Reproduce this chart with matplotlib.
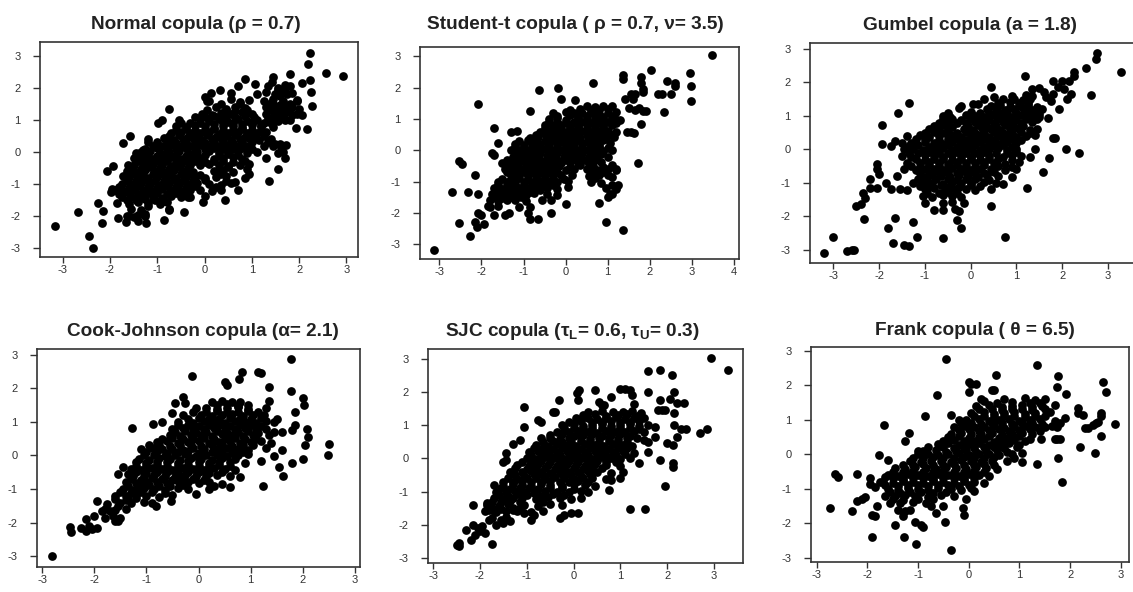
import numpy as np
import matplotlib
matplotlib.use('Agg')
import matplotlib.pyplot as plt

# ---- data (x, y pairs) ----
normal_pts = [
    (2.23, 3.11), (2.19, 2.75), (2.56, 2.47), (2.93, 2.37), (2.23, 2.24), (2.26, 1.88), (2.07, 2.16),
    (2.28, 1.43), (2.07, 1.15), (2.17, 0.71), (1.94, 0.75), (1.80, 2.43), (1.45, 2.35), (1.42, 2.19),
    (0.85, 2.29), (1.07, 2.12), (0.70, 2.05), (0.32, 1.93), (0.13, 1.83), (0.01, 1.72), (0.05, 1.58),
    (-0.75, 1.34), (-0.89, 0.99), (-0.98, 0.89), (-1.58, 0.49), (-1.72, 0.29), (-1.20, 0.30), (-1.30, 0.05),
    (-1.45, -0.02), (-1.94, -0.45), (-2.06, -0.59), (-1.62, -0.40), (-1.72, -0.75), (-1.95, -1.15),
    (-1.97, -1.27), (-1.80, -1.32), (-2.25, -1.60), (-2.14, -1.85), (-2.16, -2.22), (-2.68, -1.88),
    (-3.16, -2.32), (-2.44, -2.64), (-2.35, -3.00), (-1.84, -2.06), (-1.66, -2.19), (-1.65, -2.00),
    (-1.50, -2.05), (-1.40, -2.15), (-1.23, -2.22), (-1.25, -1.95), (-1.20, -1.70), (-0.86, -2.14),
    (-0.75, -1.83), (-0.85, -1.55), (-0.44, -1.88), (-0.35, -1.40), (-0.03, -1.58), (0.43, -1.51),
    (0.70, -1.20), (0.65, -0.95), (0.94, -0.70), (0.90, -0.55), (1.37, -0.92), (1.56, -0.52), (1.71, -0.19),
    (1.65, 0.00), (1.73, 0.23), (1.50, 0.25), (1.62, 0.15), (1.25, 0.50), (1.20, 0.80), (1.45, 1.50),
    (1.60, 1.75), (1.70, 2.00), (1.80, 2.05), (1.55, 1.95), (1.75, 1.80), (1.95, 1.60), (2.00, 1.35),
    (1.85, 1.15), (1.70, 1.00), (1.55, 1.20), (1.40, 0.90), (1.30, 1.20),
    (1.35, 2.05), (1.55, 2.0), (1.7, 2.08),
    (0.55, 1.85), (1.1, 1.8), (1.3, 1.88), (1.5, 1.82), (1.65, 1.9), (1.85, 1.85),
    (0.1, 1.6), (0.55, 1.65), (0.75, 1.55), (0.95, 1.62), (1.25, 1.58), (1.45, 1.65), (1.65, 1.6), (1.95, 1.62),
    (0.25, 1.4), (0.45, 1.35), (0.65, 1.42), (0.85, 1.38), (1.3, 1.4), (1.5, 1.35), (1.7, 1.42), (1.85, 1.4),
    (-0.05, 1.2), (0.15, 1.15), (0.35, 1.22), (0.55, 1.18), (0.8, 1.25), (1.0, 1.2), (1.5, 1.18), (1.7, 1.22), (1.95, 1.2),
    (-0.55, 1.0), (-0.1, 1.05), (0.1, 0.98), (0.3, 1.02), (0.5, 0.95), (0.7, 1.03), (0.9, 0.98), (1.1, 1.0),
    (1.35, 1.05), (1.55, 0.97), (1.8, 1.0),
    (-0.6, 0.8), (-0.4, 0.78), (-0.2, 0.83), (0.0, 0.8), (0.2, 0.76), (0.4, 0.82), (0.6, 0.8), (0.8, 0.77),
    (1.0, 0.83), (1.2, 0.8), (1.45, 0.78),
    (-0.7, 0.6), (-0.5, 0.62), (-0.3, 0.58), (-0.1, 0.6), (0.1, 0.63), (0.3, 0.57), (0.5, 0.6), (0.7, 0.62),
    (0.9, 0.58), (1.1, 0.6), (1.3, 0.62),
    (-1.2, 0.4), (-0.85, 0.42), (-0.65, 0.38), (-0.45, 0.4), (-0.25, 0.43), (-0.05, 0.37), (0.15, 0.4),
    (0.35, 0.42), (0.55, 0.38), (0.75, 0.4), (0.95, 0.43), (1.15, 0.38), (1.4, 0.4),
    (-1.1, 0.2), (-0.9, 0.18), (-0.7, 0.22), (-0.5, 0.2), (-0.3, 0.17), (-0.1, 0.22), (0.1, 0.2), (0.3, 0.18),
    (0.5, 0.22), (0.7, 0.2), (0.9, 0.17), (1.25, 0.2), (1.45, 0.18), (1.6, 0.25),
    (-1.35, 0.0), (-1.15, 0.02), (-0.95, -0.03), (-0.75, 0.0), (-0.55, 0.03), (-0.35, -0.02), (-0.15, 0.0),
    (0.1, 0.02), (0.3, -0.03), (0.5, 0.0), (0.7, 0.03), (0.9, -0.02), (1.1, 0.0), (1.55, -0.03),
    (-1.5, -0.2), (-1.3, -0.18), (-1.1, -0.22), (-0.9, -0.2), (-0.7, -0.17), (-0.5, -0.22), (-0.3, -0.2),
    (-0.1, -0.18), (0.2, -0.22), (0.4, -0.2), (0.6, -0.17), (0.8, -0.22), (1.3, -0.2),
    (-1.5, -0.4), (-1.3, -0.42), (-1.1, -0.38), (-0.9, -0.4), (-0.7, -0.43), (-0.5, -0.37), (-0.3, -0.4),
    (-0.1, -0.42), (0.1, -0.38), (0.3, -0.4), (0.5, -0.43), (0.75, -0.4), (0.95, -0.38),
    (-1.65, -0.6), (-1.45, -0.62), (-1.25, -0.58), (-1.05, -0.6), (-0.85, -0.63), (-0.65, -0.57),
    (-0.45, -0.6), (-0.25, -0.62), (0.2, -0.6), (0.4, -0.58), (0.6, -0.62),
    (-1.6, -0.8), (-1.4, -0.78), (-1.2, -0.83), (-1.0, -0.8), (-0.8, -0.77), (-0.6, -0.82), (-0.4, -0.8),
    (-0.2, -0.78), (0.0, -0.83), (0.25, -0.8), (0.45, -0.77), (0.85, -0.82),
    (-1.75, -1.0), (-1.55, -1.02), (-1.35, -0.98), (-1.15, -1.0), (-0.95, -1.03), (-0.75, -0.97),
    (-0.55, -1.0), (-0.35, -1.02), (-0.15, -0.98), (0.1, -1.0), (0.35, -1.03), (0.55, -0.98),
    (-1.9, -1.2), (-1.7, -1.22), (-1.5, -1.18), (-1.3, -1.2), (-1.1, -1.23), (-0.9, -1.17), (-0.7, -1.2),
    (-0.5, -1.22), (-0.3, -1.18), (-0.1, -1.2), (0.15, -1.23), (0.35, -1.18),
    (-1.75, -1.4), (-1.55, -1.42), (-1.35, -1.38), (-1.1, -1.4), (-0.9, -1.43), (-0.7, -1.37), (-0.5, -1.4),
    (-0.3, -1.42), (0.0, -1.38),
    (-1.85, -1.6), (-1.6, -1.62), (-1.4, -1.58), (-1.2, -1.6), (-0.95, -1.62), (-0.8, -1.58),
    (-1.55, -1.8), (-1.35, -1.82), (-0.75, -1.78),
    (-1.6, -2.0), (-1.4, -1.98), (-1.25, -2.02),
    (0.35, 1.5), (0.75, 1.5), (1.4, 1.52), (1.6, 1.48), (1.8, 1.5),
    (0.05, 1.3), (0.45, 1.3), (0.65, 1.28), (0.9, 1.32), (1.4, 1.3), (1.6, 1.28), (1.8, 1.3),
    (-0.2, 1.1), (0.0, 1.1), (0.2, 1.12), (0.45, 1.08), (0.65, 1.1), (0.85, 1.12), (1.05, 1.08), (1.45, 1.1), (1.65, 1.1),
    (-0.5, 0.9), (-0.3, 0.9), (-0.1, 0.92), (0.2, 0.88), (0.4, 0.9), (0.6, 0.92), (0.8, 0.88), (1.0, 0.9), (1.25, 0.9),
    (-0.6, 0.7), (-0.4, 0.72), (-0.2, 0.68), (0.0, 0.7), (0.2, 0.72), (0.4, 0.68), (0.6, 0.7), (0.8, 0.72),
    (1.0, 0.68), (1.2, 0.7),
    (-0.75, 0.5), (-0.55, 0.52), (-0.35, 0.48), (-0.15, 0.5), (0.05, 0.52), (0.25, 0.48), (0.45, 0.5),
    (0.65, 0.52), (0.85, 0.48), (1.05, 0.5),
    (-1.0, 0.3), (-0.8, 0.32), (-0.6, 0.28), (-0.4, 0.3), (-0.2, 0.32), (0.0, 0.28), (0.2, 0.3), (0.4, 0.32),
    (0.6, 0.28), (0.8, 0.3), (1.0, 0.32), (1.35, 0.3),
    (-1.25, 0.1), (-1.0, 0.12), (-0.8, 0.08), (-0.6, 0.1), (-0.4, 0.12), (-0.2, 0.08), (0.0, 0.1), (0.2, 0.12),
    (0.4, 0.08), (0.6, 0.1), (0.8, 0.12), (1.0, 0.08),
    (-1.4, -0.1), (-1.2, -0.1), (-1.0, -0.12), (-0.8, -0.08), (-0.6, -0.1), (-0.4, -0.12), (-0.2, -0.08),
    (0.0, -0.1), (0.3, -0.12), (0.5, -0.08), (0.7, -0.1),
    (-1.4, -0.3), (-1.2, -0.32), (-1.0, -0.28), (-0.8, -0.3), (-0.6, -0.32), (-0.4, -0.28), (-0.2, -0.3),
    (0.0, -0.32), (0.2, -0.28), (0.4, -0.3), (0.6, -0.32), (0.85, -0.28),
    (-1.55, -0.5), (-1.35, -0.52), (-1.15, -0.48), (-0.95, -0.5), (-0.75, -0.52), (-0.55, -0.48),
    (-0.35, -0.5), (0.3, -0.52), (0.5, -0.48),
    (-1.5, -0.7), (-1.3, -0.72), (-1.1, -0.68), (-0.9, -0.7), (-0.7, -0.72), (-0.5, -0.68), (-0.3, -0.7),
    (-0.1, -0.72), (0.35, -0.68),
    (-1.65, -0.9), (-1.45, -0.92), (-1.25, -0.88), (-1.05, -0.9), (-0.85, -0.92), (-0.65, -0.88),
    (-0.45, -0.9), (-0.25, -0.92), (0.0, -0.88), (0.45, -0.9),
    (-1.8, -1.1), (-1.6, -1.12), (-1.4, -1.08), (-1.2, -1.1), (-1.0, -1.12), (-0.8, -1.08), (-0.6, -1.1),
    (-0.4, -1.12), (-0.2, -1.08), (0.25, -1.1),
    (-1.6, -1.3), (-1.4, -1.32), (-1.2, -1.28), (-1.0, -1.3), (-0.8, -1.32), (-0.6, -1.28), (-0.4, -1.3),
    (-1.65, -1.5), (-1.45, -1.52), (-1.25, -1.48), (-1.05, -1.5),
]

student_pts = [
    (3.49, 3.06), (2.02, 2.55), (2.95, 2.46), (2.98, 2.04), (2.98, 1.59), (2.41, 2.23), (2.60, 2.05),
    (2.60, 2.15), (2.50, 1.80), (2.30, 1.80), (2.20, 1.80), (2.34, 1.22), (1.78, 2.34), (1.78, 2.14),
    (1.37, 2.42), (1.37, 2.28), (0.66, 2.14), (-0.63, 1.94), (-0.17, 2.00), (-0.12, 1.65), (0.22, 1.60),
    (-2.07, 1.49), (-0.85, 1.27), (-1.70, 0.72), (-1.60, 0.25), (-1.75, -0.10), (-1.70, -0.15),
    (-2.53, -0.35), (-2.47, -0.45), (-2.15, -0.80), (-2.71, -1.32), (-2.31, -1.32), (-2.09, -1.38),
    (-2.07, -1.99), (-2.00, -2.05), (-2.53, -2.31), (-2.15, -2.30), (-2.10, -2.45), (-1.95, -2.35),
    (-2.27, -2.74), (-3.12, -3.18), (-1.70, -2.05), (-1.45, -2.05), (-1.35, -2.00), (-0.90, -2.00),
    (-0.85, -2.20), (-0.65, -2.20), (-0.35, -2.00), (0.00, -1.72), (0.79, -1.68), (0.96, -2.28),
    (1.37, -2.53), (1.71, -0.39), (1.00, -1.50), (1.10, -1.40), (1.25, -1.10), (1.20, -0.60), (1.10, -0.85),
    (1.45, 0.60), (1.55, 0.60), (1.62, 0.55), (1.85, 1.25), (1.80, 0.85), (1.85, 1.85), (1.85, 1.95),
    (1.55, 1.80), (1.65, 1.80), (1.60, 1.65), (1.40, 1.65), (1.50, 1.35), (1.65, 1.30), (1.75, 1.35),
    (1.90, 1.25), (-1.85, -1.78),
    (0.5, 1.4), (0.7, 1.38), (0.9, 1.42), (1.1, 1.4),
    (-0.3, 1.2), (0.0, 1.22), (0.2, 1.18), (0.4, 1.2), (0.6, 1.23), (0.8, 1.17), (1.0, 1.2), (1.2, 1.22),
    (-0.4, 1.0), (-0.2, 1.03), (0.0, 0.98), (0.3, 1.0), (0.5, 1.02), (0.7, 0.97), (0.9, 1.0), (1.1, 1.03), (1.3, 0.98),
    (-0.5, 0.8), (-0.3, 0.78), (-0.1, 0.82), (0.1, 0.8), (0.3, 0.77), (0.5, 0.83), (0.7, 0.8), (0.9, 0.78), (1.1, 0.82),
    (-1.3, 0.6), (-1.15, 0.62), (-0.6, 0.58), (-0.4, 0.6), (-0.2, 0.63), (0.0, 0.57), (0.2, 0.6), (0.4, 0.62),
    (0.6, 0.58), (0.8, 0.6), (1.0, 0.63), (1.2, 0.57),
    (-0.85, 0.4), (-0.65, 0.42), (-0.45, 0.38), (-0.25, 0.4), (-0.05, 0.43), (0.15, 0.37), (0.35, 0.4),
    (0.55, 0.42), (0.75, 0.38), (0.95, 0.4), (1.15, 0.42),
    (-1.2, 0.2), (-1.0, 0.18), (-0.8, 0.22), (-0.6, 0.2), (-0.4, 0.17), (-0.2, 0.22), (0.0, 0.2), (0.2, 0.18),
    (0.4, 0.22), (0.6, 0.2), (0.8, 0.17), (1.05, 0.22),
    (-1.3, 0.0), (-1.1, 0.02), (-0.9, -0.03), (-0.7, 0.0), (-0.5, 0.03), (-0.3, -0.02), (-0.1, 0.0),
    (0.1, 0.02), (0.3, -0.03), (0.5, 0.0), (0.7, 0.03), (0.9, -0.02), (1.1, 0.0),
    (-1.25, -0.2), (-1.05, -0.18), (-0.85, -0.22), (-0.65, -0.2), (-0.45, -0.17), (-0.25, -0.22),
    (-0.05, -0.2), (0.15, -0.18), (0.35, -0.22), (0.55, -0.2), (0.75, -0.17), (1.0, -0.22),
    (-1.5, -0.4), (-1.3, -0.42), (-1.1, -0.38), (-0.9, -0.4), (-0.7, -0.43), (-0.5, -0.37), (-0.3, -0.4),
    (-0.1, -0.42), (0.1, -0.38), (0.3, -0.4), (0.55, -0.43), (0.85, -0.38),
    (-1.45, -0.6), (-1.25, -0.62), (-1.05, -0.58), (-0.85, -0.6), (-0.65, -0.63), (-0.45, -0.57),
    (-0.25, -0.6), (0.0, -0.62), (0.2, -0.58), (0.5, -0.6), (0.75, -0.63), (1.0, -0.58), (1.2, -0.62),
    (-1.3, -0.8), (-1.1, -0.78), (-0.9, -0.83), (-0.7, -0.8), (-0.5, -0.77), (-0.3, -0.82), (-0.1, -0.8),
    (0.15, -0.78), (0.55, -0.83), (0.8, -0.8), (1.0, -0.78),
    (-1.6, -1.0), (-1.4, -1.02), (-1.2, -0.98), (-1.0, -1.0), (-0.8, -1.03), (-0.6, -0.97), (-0.4, -1.0),
    (-0.2, -1.02), (0.05, -0.98), (0.6, -1.0), (0.85, -1.03),
    (-1.7, -1.2), (-1.5, -1.22), (-1.3, -1.18), (-1.1, -1.2), (-0.9, -1.23), (-0.7, -1.17), (-0.45, -1.2),
    (-0.2, -1.22), (0.05, -1.18), (0.95, -1.2), (1.2, -1.22),
    (-1.75, -1.4), (-1.55, -1.42), (-1.35, -1.38), (-1.15, -1.4), (-0.95, -1.43), (-0.75, -1.37),
    (-0.45, -1.4), (-0.2, -1.42), (1.05, -1.38),
    (-1.8, -1.6), (-1.6, -1.62), (-1.4, -1.58), (-1.2, -1.6), (-0.95, -1.62), (-0.55, -1.58), (-0.35, -1.6),
    (-1.8, -1.8), (-1.6, -1.78), (-1.1, -1.82), (-0.85, -1.8),
    (0.1, 1.3), (0.35, 1.32), (0.6, 1.28), (0.8, 1.3), (1.0, 1.32),
    (-0.2, 1.1), (0.1, 1.12), (0.3, 1.08), (0.5, 1.1), (0.7, 1.12), (0.9, 1.08), (1.15, 1.1),
    (-0.4, 0.9), (-0.2, 0.92), (0.0, 0.88), (0.2, 0.9), (0.4, 0.92), (0.6, 0.88), (0.8, 0.9), (1.0, 0.92), (1.2, 0.88),
    (-0.5, 0.7), (-0.3, 0.72), (-0.1, 0.68), (0.1, 0.7), (0.3, 0.72), (0.5, 0.68), (0.7, 0.7), (0.9, 0.72),
    (-0.7, 0.5), (-0.5, 0.52), (-0.3, 0.48), (-0.1, 0.5), (0.1, 0.52), (0.3, 0.48), (0.5, 0.5), (0.7, 0.52),
    (0.9, 0.48), (1.1, 0.5),
    (-1.1, 0.3), (-0.9, 0.32), (-0.7, 0.28), (-0.5, 0.3), (-0.3, 0.32), (-0.1, 0.28), (0.1, 0.3), (0.3, 0.32),
    (0.5, 0.28), (0.7, 0.3), (0.9, 0.32),
    (-1.2, 0.1), (-1.0, 0.12), (-0.8, 0.08), (-0.6, 0.1), (-0.4, 0.12), (-0.2, 0.08), (0.0, 0.1), (0.2, 0.12),
    (0.4, 0.08), (0.6, 0.1), (0.8, 0.12), (1.0, 0.08),
    (-1.2, -0.1), (-1.0, -0.12), (-0.8, -0.08), (-0.6, -0.1), (-0.4, -0.12), (-0.2, -0.08), (0.0, -0.1),
    (0.2, -0.12), (0.4, -0.08), (0.6, -0.1), (0.85, -0.12),
    (-1.4, -0.3), (-1.2, -0.32), (-1.0, -0.28), (-0.8, -0.3), (-0.6, -0.32), (-0.4, -0.28), (-0.2, -0.3),
    (0.0, -0.32), (0.2, -0.28), (0.45, -0.3), (0.7, -0.32),
    (-1.35, -0.5), (-1.15, -0.52), (-0.95, -0.48), (-0.75, -0.5), (-0.55, -0.52), (-0.35, -0.48),
    (-0.15, -0.5), (0.1, -0.52), (0.35, -0.48), (0.65, -0.5), (0.9, -0.52), (1.1, -0.48),
    (-1.4, -0.7), (-1.2, -0.72), (-1.0, -0.68), (-0.8, -0.7), (-0.6, -0.72), (-0.4, -0.68), (-0.2, -0.7),
    (0.65, -0.72), (0.9, -0.68),
    (-1.5, -0.9), (-1.3, -0.92), (-1.1, -0.88), (-0.9, -0.9), (-0.7, -0.92), (-0.5, -0.88), (-0.3, -0.9),
    (-0.05, -0.92), (0.7, -0.88),
    (-1.6, -1.1), (-1.4, -1.12), (-1.2, -1.08), (-1.0, -1.1), (-0.8, -1.12), (-0.55, -1.08), (-0.3, -1.1), (1.1, -1.12),
    (-1.65, -1.3), (-1.45, -1.32), (-1.25, -1.28), (-1.05, -1.3), (-0.85, -1.32), (-0.6, -1.28),
    (-1.7, -1.5), (-1.5, -1.52), (-1.3, -1.48), (-1.05, -1.5),
]

gumbel_pts = [
    (2.75, 2.89), (2.73, 2.71), (3.29, 2.31), (2.51, 2.44), (2.64, 1.62), (2.25, 2.30), (2.25, 2.20),
    (1.19, 2.19), (0.44, 1.87), (-1.34, 1.40), (-1.59, 1.10), (-1.93, 0.72), (-1.94, 0.15), (-1.75, 0.10),
    (-1.65, 0.25), (-2.05, -0.45), (-2.05, -0.60), (-2.00, -0.75), (-2.20, -0.88), (-2.20, -1.15),
    (-2.05, -1.15), (-2.35, -1.30), (-2.30, -1.45), (-2.40, -1.65), (-2.50, -1.70), (-2.34, -2.09),
    (-1.80, -2.34), (-1.65, -2.04), (-1.70, -2.79), (-1.45, -2.85), (-1.35, -2.90), (-1.27, -2.17),
    (-1.18, -2.61), (-0.61, -2.65), (0.75, -2.61), (-3.20, -3.09), (-3.00, -2.61), (-2.70, -3.05),
    (-2.60, -3.00), (-2.55, -3.00), (-0.20, -2.34), (-0.30, -2.10), (-0.25, -1.85), (0.44, -1.69),
    (1.24, -1.15), (1.57, -0.68), (1.72, -0.25), (2.09, 0.02), (2.36, -0.12), (1.80, 0.35), (1.85, 0.35),
    (1.93, 1.22), (2.10, 1.50), (2.20, 1.65), (2.05, 1.80), (2.15, 2.05), (2.00, 2.05), (1.80, 2.05),
    (1.60, 1.70), (1.65, 1.55), (1.75, 1.45), (1.80, 1.65), (1.90, 1.85), (1.70, 0.95), (1.50, 1.05),
    (1.45, 0.60), (0.50, 1.55), (0.30, 1.50), (0.15, 1.35), (0.05, 1.35), (-0.20, 1.30), (-0.25, 1.25),
    (1.35, 1.8), (1.5, 1.82),
    (0.9, 1.6), (1.2, 1.62), (1.35, 1.58),
    (0.6, 1.4), (0.85, 1.42), (1.05, 1.38), (1.25, 1.4),
    (0.35, 1.2), (0.55, 1.22), (0.75, 1.18), (0.95, 1.2), (1.15, 1.23), (1.35, 1.17), (1.55, 1.2),
    (-0.6, 1.0), (-0.45, 0.98), (-0.1, 1.02), (0.1, 1.0), (0.3, 0.97), (0.5, 1.03), (0.7, 1.0), (0.9, 0.98),
    (1.1, 1.02), (1.3, 1.0), (1.5, 0.97),
    (-0.7, 0.8), (-0.5, 0.82), (-0.3, 0.78), (-0.1, 0.8), (0.1, 0.83), (0.3, 0.77), (0.5, 0.8), (0.7, 0.82),
    (0.9, 0.78), (1.1, 0.8), (1.35, 0.83),
    (-0.9, 0.6), (-0.7, 0.58), (-0.5, 0.62), (-0.15, 0.6), (0.05, 0.57), (0.25, 0.63), (0.45, 0.6),
    (0.65, 0.58), (0.85, 0.62), (1.05, 0.6), (1.3, 0.57),
    (-1.4, 0.4), (-1.1, 0.42), (-0.9, 0.38), (-0.7, 0.4), (-0.4, 0.43), (-0.2, 0.37), (0.0, 0.4), (0.2, 0.42),
    (0.4, 0.38), (0.6, 0.4), (0.8, 0.43), (1.0, 0.37), (1.2, 0.4), (1.4, 0.42),
    (-1.5, 0.2), (-1.3, 0.18), (-1.0, 0.22), (-0.8, 0.2), (-0.6, 0.17), (-0.4, 0.22), (-0.2, 0.2), (0.0, 0.18),
    (0.2, 0.22), (0.4, 0.2), (0.6, 0.17), (0.8, 0.22), (1.0, 0.2),
    (-1.45, 0.0), (-1.25, 0.02), (-1.05, -0.03), (-0.8, 0.0), (-0.6, 0.03), (-0.4, -0.02), (-0.2, 0.0),
    (0.0, 0.02), (0.2, -0.03), (0.4, 0.0), (0.6, 0.03), (0.8, -0.02), (1.0, 0.0), (1.4, 0.02),
    (-1.5, -0.2), (-1.3, -0.22), (-1.0, -0.18), (-0.8, -0.2), (-0.6, -0.23), (-0.4, -0.17), (-0.2, -0.2),
    (0.0, -0.22), (0.2, -0.18), (0.4, -0.2), (0.7, -0.23), (0.9, -0.17), (1.1, -0.2), (1.3, -0.22),
    (-1.4, -0.4), (-1.1, -0.42), (-0.9, -0.38), (-0.7, -0.4), (-0.5, -0.43), (-0.3, -0.37), (-0.1, -0.4),
    (0.1, -0.42), (0.3, -0.38), (0.5, -0.4), (0.75, -0.43), (1.05, -0.38),
    (-1.45, -0.6), (-1.2, -0.62), (-1.0, -0.58), (-0.8, -0.6), (-0.6, -0.63), (-0.4, -0.57), (-0.2, -0.6),
    (0.0, -0.62), (0.2, -0.58), (0.45, -0.6), (0.75, -0.63), (1.0, -0.58),
    (-1.6, -0.8), (-1.05, -0.82), (-0.85, -0.78), (-0.65, -0.8), (-0.45, -0.83), (-0.25, -0.77),
    (-0.05, -0.8), (0.15, -0.82), (0.35, -0.78), (0.6, -0.8), (0.9, -0.83),
    (-1.85, -1.0), (-1.25, -1.02), (-1.05, -0.98), (-0.85, -1.0), (-0.6, -1.03), (-0.4, -0.97), (-0.2, -1.0),
    (0.0, -1.02), (0.3, -0.98), (0.55, -1.0), (0.7, -1.03),
    (-1.75, -1.2), (-1.55, -1.18), (-1.4, -1.22), (-1.0, -1.2), (-0.8, -1.17), (-0.55, -1.22), (-0.35, -1.2),
    (-0.1, -1.18), (0.1, -1.22), (0.45, -1.2),
    (-1.05, -1.4), (-0.85, -1.42), (-0.6, -1.38), (-0.4, -1.4), (-0.2, -1.43),
    (-1.0, -1.6), (-0.6, -1.62), (-0.4, -1.58), (-0.15, -1.6),
    (-0.8, -1.8), (-0.6, -1.82), (-0.35, -1.78),
    (0.7, 1.5), (0.95, 1.52), (1.15, 1.48), (1.3, 1.5),
    (0.45, 1.3), (0.65, 1.32), (0.85, 1.28), (1.05, 1.3), (1.25, 1.32), (1.45, 1.28),
    (-0.5, 1.1), (0.0, 1.12), (0.2, 1.08), (0.4, 1.1), (0.6, 1.12), (0.8, 1.08), (1.0, 1.1), (1.2, 1.12), (1.4, 1.08),
    (-0.6, 0.9), (-0.4, 0.92), (-0.2, 0.88), (0.0, 0.9), (0.2, 0.92), (0.4, 0.88), (0.6, 0.9), (0.8, 0.92),
    (1.0, 0.88), (1.2, 0.9), (1.45, 0.92),
    (-0.8, 0.7), (-0.6, 0.72), (-0.4, 0.68), (-0.05, 0.7), (0.15, 0.72), (0.35, 0.68), (0.55, 0.7),
    (0.75, 0.72), (0.95, 0.68), (1.15, 0.7),
    (-1.0, 0.5), (-0.8, 0.52), (-0.55, 0.48), (-0.3, 0.5), (-0.1, 0.52), (0.1, 0.48), (0.3, 0.5), (0.5, 0.52),
    (0.7, 0.48), (0.9, 0.5), (1.1, 0.52), (1.3, 0.48),
    (-1.2, 0.3), (-1.0, 0.32), (-0.7, 0.28), (-0.5, 0.3), (-0.3, 0.32), (-0.1, 0.28), (0.1, 0.3), (0.3, 0.32),
    (0.5, 0.28), (0.7, 0.3), (0.9, 0.32), (1.1, 0.28),
    (-1.35, 0.1), (-1.15, 0.12), (-0.9, 0.08), (-0.7, 0.1), (-0.5, 0.12), (-0.3, 0.08), (-0.1, 0.1), (0.1, 0.12),
    (0.3, 0.08), (0.5, 0.1), (0.7, 0.12), (0.9, 0.08),
    (-1.35, -0.1), (-1.15, -0.12), (-0.9, -0.08), (-0.7, -0.1), (-0.5, -0.12), (-0.3, -0.08), (-0.1, -0.1),
    (0.1, -0.12), (0.3, -0.08), (0.55, -0.1), (0.8, -0.12), (1.0, -0.08),
    (-1.2, -0.3), (-1.0, -0.32), (-0.8, -0.28), (-0.6, -0.3), (-0.4, -0.32), (-0.2, -0.28), (0.0, -0.3),
    (0.2, -0.32), (0.4, -0.28), (0.6, -0.3), (0.9, -0.32),
    (-1.3, -0.5), (-1.1, -0.52), (-0.9, -0.48), (-0.7, -0.5), (-0.5, -0.52), (-0.3, -0.48), (-0.1, -0.5),
    (0.1, -0.52), (0.3, -0.48), (0.6, -0.5), (0.9, -0.52),
    (-1.1, -0.7), (-0.9, -0.72), (-0.7, -0.68), (-0.5, -0.7), (-0.3, -0.72), (-0.1, -0.68), (0.1, -0.7),
    (0.3, -0.72), (0.5, -0.68),
    (-1.15, -0.9), (-0.95, -0.92), (-0.75, -0.88), (-0.5, -0.9), (-0.3, -0.92), (-0.1, -0.88), (0.1, -0.9), (0.4, -0.92),
    (-1.1, -1.1), (-0.9, -1.12), (-0.65, -1.08), (-0.45, -1.1), (-0.25, -1.12), (0.0, -1.08), (0.2, -1.1),
    (-0.95, -1.3), (-0.7, -1.32), (-0.5, -1.28), (-0.3, -1.3),
]

clayton_pts = [
    (1.78, 2.88), (0.83, 2.50), (0.78, 2.27), (1.15, 2.50), (1.20, 2.45), (-0.13, 2.37), (0.50, 2.20),
    (0.55, 2.10), (1.35, 2.05), (1.78, 1.93), (2.00, 1.70), (2.03, 1.50), (1.85, 1.30), (1.85, 0.90),
    (1.80, 0.75), (2.08, 0.78), (2.10, 0.55), (2.05, 0.30), (2.01, -0.11), (2.51, 0.35), (2.48, 0.00),
    (1.79, -0.21), (1.63, -0.60), (1.55, -0.35), (1.60, 0.15), (1.24, -0.90), (1.60, 0.70), (1.45, 0.70),
    (1.50, 1.10), (0.60, -0.95), (0.45, -0.85), (0.30, -0.90), (0.20, -1.00), (-0.04, -1.14),
    (-0.53, -1.35), (-0.82, -1.50), (-1.28, 0.83), (-0.87, 0.94), (-0.70, 1.00), (-0.50, 1.25),
    (-0.45, 1.55), (-0.30, 1.75), (-0.25, 1.55), (-0.10, 1.30), (-1.45, -0.35), (-1.55, -0.55),
    (-1.35, -0.55), (-1.95, -1.35), (-1.85, -1.65), (-2.00, -1.80), (-1.60, -1.95), (-1.50, -1.85),
    (-2.47, -2.13), (-2.45, -2.29), (-2.25, -2.15), (-2.15, -1.90), (-2.10, -2.10), (-2.05, -2.20),
    (-2.15, -2.25), (-1.95, -2.15), (-2.82, -3.00), (-1.75, -1.45), (-1.70, -1.65), (-1.55, -1.50),
    (-1.40, -1.60), (-1.35, -1.30), (-1.20, -1.10), (-1.65, -1.80), (-1.80, -1.85), (-1.55, -1.95),
    (0.25, 1.6), (0.45, 1.62), (0.65, 1.58), (0.8, 1.6), (1.35, 1.62),
    (-0.05, 1.4), (0.15, 1.42), (0.35, 1.38), (0.55, 1.4), (0.75, 1.43), (0.95, 1.37), (1.3, 1.4),
    (-0.3, 1.2), (0.05, 1.22), (0.25, 1.18), (0.45, 1.2), (0.65, 1.23), (0.85, 1.17), (1.05, 1.2), (1.25, 1.22),
    (-0.4, 1.0), (-0.1, 0.98), (0.1, 1.02), (0.3, 1.0), (0.5, 0.97), (0.7, 1.03), (0.9, 1.0), (1.1, 0.98),
    (1.3, 1.02), (1.45, 1.0),
    (-0.5, 0.8), (-0.3, 0.82), (-0.1, 0.78), (0.1, 0.8), (0.3, 0.83), (0.5, 0.77), (0.7, 0.8), (0.9, 0.82),
    (1.1, 0.78), (1.3, 0.8),
    (-0.55, 0.6), (-0.35, 0.58), (-0.15, 0.62), (0.05, 0.6), (0.25, 0.57), (0.45, 0.63), (0.65, 0.6),
    (0.85, 0.58), (1.05, 0.62), (1.35, 0.6),
    (-0.8, 0.4), (-0.6, 0.42), (-0.4, 0.38), (-0.2, 0.4), (0.0, 0.43), (0.2, 0.37), (0.4, 0.4), (0.6, 0.42),
    (0.8, 0.38), (1.0, 0.4), (1.2, 0.43), (1.4, 0.37),
    (-1.1, 0.2), (-0.9, 0.22), (-0.7, 0.18), (-0.5, 0.2), (-0.3, 0.17), (-0.1, 0.22), (0.1, 0.2), (0.35, 0.18),
    (0.55, 0.22), (0.75, 0.2), (0.95, 0.17), (1.3, 0.22),
    (-1.05, 0.0), (-0.85, 0.02), (-0.65, -0.03), (-0.45, 0.0), (-0.25, 0.03), (-0.05, -0.02), (0.15, 0.0),
    (0.35, 0.02), (0.55, -0.03), (0.75, 0.0), (0.95, 0.03), (1.45, -0.02),
    (-1.2, -0.2), (-1.0, -0.22), (-0.8, -0.18), (-0.6, -0.2), (-0.4, -0.23), (-0.2, -0.17), (0.0, -0.2),
    (0.2, -0.22), (0.4, -0.18), (0.6, -0.2), (0.9, -0.23), (1.2, -0.17),
    (-1.3, -0.4), (-1.1, -0.42), (-0.9, -0.38), (-0.7, -0.4), (-0.5, -0.43), (-0.3, -0.37), (-0.1, -0.4),
    (0.1, -0.42), (0.3, -0.38), (0.5, -0.4), (0.7, -0.43),
    (-1.25, -0.6), (-1.05, -0.62), (-0.85, -0.58), (-0.65, -0.6), (-0.45, -0.63), (-0.25, -0.57),
    (-0.05, -0.6), (0.15, -0.62), (0.35, -0.58), (0.6, -0.6), (0.8, -0.63),
    (-1.4, -0.8), (-1.2, -0.82), (-1.0, -0.78), (-0.8, -0.8), (-0.6, -0.83), (-0.4, -0.77), (-0.2, -0.8),
    (0.0, -0.82), (0.2, -0.78),
    (-1.45, -1.0), (-1.25, -1.02), (-1.05, -0.98), (-0.85, -1.0), (-0.65, -1.03), (-0.4, -0.97), (-0.2, -1.0),
    (-1.6, -1.2), (-1.4, -1.22), (-1.2, -1.18), (-1.0, -1.2), (-0.75, -1.23), (-0.5, -1.17),
    (-1.5, -1.4), (-1.3, -1.42), (-1.05, -1.38), (-0.9, -1.4),
    (-1.8, -1.6), (-1.6, -1.62),
    (0.35, 1.5), (0.55, 1.52), (0.75, 1.48), (0.95, 1.5),
    (0.15, 1.3), (0.35, 1.32), (0.55, 1.28), (0.75, 1.3), (0.95, 1.32), (1.15, 1.28),
    (-0.2, 1.1), (0.0, 1.12), (0.2, 1.08), (0.4, 1.1), (0.6, 1.12), (0.8, 1.08), (1.0, 1.1), (1.2, 1.12),
    (-0.4, 0.9), (-0.2, 0.92), (0.0, 0.88), (0.2, 0.9), (0.4, 0.92), (0.6, 0.88), (0.8, 0.9), (1.0, 0.92), (1.2, 0.88),
    (-0.45, 0.7), (-0.25, 0.72), (-0.05, 0.68), (0.15, 0.7), (0.35, 0.72), (0.55, 0.68), (0.75, 0.7),
    (0.95, 0.72), (1.15, 0.68),
    (-0.7, 0.5), (-0.5, 0.52), (-0.3, 0.48), (-0.1, 0.5), (0.1, 0.52), (0.3, 0.48), (0.5, 0.5), (0.7, 0.52),
    (0.9, 0.48), (1.1, 0.5),
    (-0.95, 0.3), (-0.75, 0.32), (-0.55, 0.28), (-0.35, 0.3), (-0.15, 0.32), (0.05, 0.28), (0.25, 0.3),
    (0.45, 0.32), (0.65, 0.28), (0.85, 0.3), (1.05, 0.32),
    (-1.0, 0.1), (-0.8, 0.12), (-0.6, 0.08), (-0.4, 0.1), (-0.2, 0.12), (0.0, 0.08), (0.25, 0.1), (0.45, 0.12),
    (0.65, 0.08), (0.85, 0.1),
    (-1.15, -0.1), (-0.95, -0.12), (-0.75, -0.08), (-0.55, -0.1), (-0.35, -0.12), (-0.15, -0.08),
    (0.05, -0.1), (0.25, -0.12), (0.45, -0.08), (0.7, -0.1),
    (-1.2, -0.3), (-1.0, -0.32), (-0.8, -0.28), (-0.6, -0.3), (-0.4, -0.32), (-0.2, -0.28), (0.0, -0.3),
    (0.2, -0.32), (0.4, -0.28), (0.6, -0.3),
    (-1.2, -0.5), (-1.0, -0.52), (-0.8, -0.48), (-0.6, -0.5), (-0.4, -0.52), (-0.2, -0.48), (0.0, -0.5),
    (0.2, -0.52), (0.45, -0.48),
    (-1.3, -0.7), (-1.1, -0.72), (-0.9, -0.68), (-0.7, -0.7), (-0.5, -0.72), (-0.3, -0.68), (-0.1, -0.7), (0.1, -0.72),
    (-1.35, -0.9), (-1.15, -0.92), (-0.95, -0.88), (-0.75, -0.9), (-0.55, -0.92), (-0.3, -0.88),
    (-1.5, -1.1), (-1.3, -1.12), (-1.1, -1.08), (-0.9, -1.1), (-0.65, -1.12),
    (-1.6, -1.3), (-1.4, -1.32), (-1.2, -1.28),
]

sjc_pts = [
    (2.93, 3.01), (3.30, 2.66), (1.60, 2.63), (1.85, 2.66), (2.11, 2.50), (2.15, 2.00), (1.60, 2.00),
    (0.11, 2.06), (0.07, 1.98), (0.45, 2.05), (-0.31, 1.75), (-1.05, 1.54), (0.10, 1.75), (0.55, 1.70),
    (0.60, 1.60), (0.80, 1.85), (1.00, 2.10), (1.10, 2.10), (1.20, 2.05), (1.25, 1.90), (-0.45, 1.40),
    (-0.40, 1.40), (-0.75, 1.15), (-0.70, 1.10), (-1.05, 0.95), (-1.30, 0.44), (-1.15, 0.55), (-1.45, 0.15),
    (-1.45, -0.05), (-1.50, -0.10), (-2.14, -1.40), (-1.75, -2.58), (-2.45, -2.55), (-2.45, -2.65),
    (-2.50, -2.60), (-2.30, -2.15), (-2.20, -2.45), (-2.15, -2.00), (-2.00, -2.20), (-1.90, -2.25),
    (-2.05, -2.10), (-1.95, -2.05), (-2.10, -2.30), (-1.80, -1.85), (-1.70, -1.60), (-1.55, -1.85),
    (-1.50, -1.95), (-1.35, -1.90), (-1.85, -1.35), (-1.80, -1.55), (-1.30, -1.55), (-1.15, -1.50),
    (-1.05, -1.65), (-0.90, -1.85), (-0.85, -1.70), (-0.65, -1.60), (-0.30, -1.80), (-0.20, -1.70),
    (-0.05, -1.65), (0.10, -1.65), (1.21, -1.53), (1.52, -1.53), (1.95, -0.83), (1.85, -0.05),
    (2.12, -0.15), (2.12, -0.25), (2.00, 0.45), (2.12, 0.40), (2.70, 0.75), (2.85, 0.88), (2.30, 0.88),
    (2.40, 0.88), (2.15, 1.00), (2.20, 0.65), (2.35, 1.65), (2.20, 1.65), (2.05, 1.80), (1.80, 1.45),
    (1.90, 1.45), (1.95, 1.45), (1.85, 1.75), (2.15, 1.35), (1.75, 0.95), (1.75, 0.65), (1.50, 0.55),
    (1.60, 0.50), (1.60, 0.20), (1.40, -0.15), (0.76, -0.95), (0.80, -0.65), (1.05, -0.40), (1.00, -0.60),
    (0.65, 1.6), (1.3, 1.62),
    (0.3, 1.4), (0.6, 1.42), (0.85, 1.38), (1.05, 1.4), (1.25, 1.43), (1.45, 1.37),
    (0.05, 1.2), (0.3, 1.22), (0.5, 1.18), (0.7, 1.2), (0.9, 1.23), (1.1, 1.17), (1.3, 1.2), (1.5, 1.22),
    (-0.25, 1.0), (0.0, 1.02), (0.2, 0.98), (0.4, 1.0), (0.6, 1.03), (0.8, 0.97), (1.0, 1.0), (1.2, 1.02),
    (1.4, 0.98), (1.6, 1.0),
    (-0.35, 0.8), (-0.1, 0.78), (0.1, 0.82), (0.3, 0.8), (0.5, 0.77), (0.7, 0.83), (0.9, 0.8), (1.1, 0.78),
    (1.3, 0.82), (1.5, 0.8),
    (-0.7, 0.6), (-0.5, 0.62), (-0.3, 0.58), (-0.1, 0.6), (0.15, 0.63), (0.35, 0.57), (0.55, 0.6),
    (0.75, 0.62), (0.95, 0.58), (1.15, 0.6), (1.35, 0.62),
    (-0.8, 0.4), (-0.55, 0.38), (-0.35, 0.42), (-0.15, 0.4), (0.05, 0.37), (0.25, 0.43), (0.45, 0.4),
    (0.65, 0.38), (0.85, 0.42), (1.05, 0.4), (1.25, 0.37),
    (-0.95, 0.2), (-0.75, 0.22), (-0.55, 0.18), (-0.35, 0.2), (-0.15, 0.23), (0.05, 0.17), (0.25, 0.2),
    (0.45, 0.22), (0.65, 0.18), (0.85, 0.2), (1.05, 0.23), (1.3, 0.17),
    (-1.0, 0.0), (-0.8, -0.02), (-0.6, 0.03), (-0.4, 0.0), (-0.2, -0.03), (0.0, 0.02), (0.2, 0.0),
    (0.4, -0.02), (0.6, 0.03), (0.8, 0.0), (1.0, -0.03), (1.2, 0.02),
    (-1.2, -0.2), (-0.95, -0.22), (-0.75, -0.18), (-0.55, -0.2), (-0.35, -0.23), (-0.15, -0.17),
    (0.05, -0.2), (0.25, -0.22), (0.45, -0.18), (0.7, -0.2), (1.0, -0.22),
    (-1.35, -0.4), (-1.1, -0.42), (-0.9, -0.38), (-0.7, -0.4), (-0.5, -0.43), (-0.3, -0.37), (-0.1, -0.4),
    (0.1, -0.42), (0.3, -0.38), (0.5, -0.4), (0.8, -0.43),
    (-1.4, -0.6), (-1.2, -0.62), (-1.0, -0.58), (-0.8, -0.6), (-0.6, -0.63), (-0.4, -0.57), (-0.2, -0.6),
    (0.0, -0.62), (0.2, -0.58), (0.4, -0.6), (0.7, -0.63),
    (-1.7, -0.8), (-1.5, -0.82), (-1.3, -0.78), (-1.1, -0.8), (-0.9, -0.83), (-0.7, -0.77), (-0.5, -0.8),
    (-0.25, -0.82), (0.0, -0.78), (0.25, -0.8), (0.45, -0.83),
    (-1.65, -1.0), (-1.45, -1.02), (-1.25, -0.98), (-1.05, -1.0), (-0.85, -1.03), (-0.6, -0.97),
    (-0.35, -1.0), (-0.1, -1.02), (0.15, -0.98), (0.3, -1.0),
    (-1.7, -1.2), (-1.5, -1.22), (-1.3, -1.18), (-1.1, -1.2), (-0.8, -1.23), (-0.55, -1.17), (-0.3, -1.2),
    (-0.05, -1.22), (0.15, -1.18),
    (-1.85, -1.4), (-1.6, -1.42), (-1.4, -1.38), (-1.05, -1.4), (-0.75, -1.43), (-0.5, -1.37), (-0.25, -1.4),
    (-1.9, -1.6), (-1.65, -1.62), (-1.45, -1.58), (-1.2, -1.6), (-0.9, -1.62),
    (-1.75, -1.8), (-1.45, -1.78), (-1.65, -2.0),
    (0.2, 1.3), (0.45, 1.32), (0.7, 1.28), (0.95, 1.3), (1.15, 1.32), (1.35, 1.28),
    (-0.1, 1.1), (0.15, 1.12), (0.4, 1.08), (0.6, 1.1), (0.8, 1.12), (1.0, 1.08), (1.2, 1.1), (1.4, 1.12),
    (-0.2, 0.9), (0.0, 0.92), (0.2, 0.88), (0.4, 0.9), (0.6, 0.92), (0.8, 0.88), (1.0, 0.9), (1.2, 0.92), (1.4, 0.88),
    (-0.5, 0.7), (-0.25, 0.72), (0.0, 0.68), (0.2, 0.7), (0.4, 0.72), (0.6, 0.68), (0.8, 0.7), (1.0, 0.72), (1.2, 0.68),
    (-0.65, 0.5), (-0.45, 0.52), (-0.25, 0.48), (-0.05, 0.5), (0.15, 0.52), (0.35, 0.48), (0.55, 0.5),
    (0.75, 0.52), (0.95, 0.48), (1.15, 0.5),
    (-0.85, 0.3), (-0.65, 0.32), (-0.45, 0.28), (-0.25, 0.3), (-0.05, 0.32), (0.15, 0.28), (0.35, 0.3),
    (0.55, 0.32), (0.75, 0.28), (0.95, 0.3), (1.15, 0.32),
    (-0.9, 0.1), (-0.7, 0.12), (-0.5, 0.08), (-0.3, 0.1), (-0.1, 0.12), (0.1, 0.08), (0.3, 0.1), (0.5, 0.12),
    (0.7, 0.08), (0.9, 0.1), (1.1, 0.12),
    (-1.1, -0.1), (-0.9, -0.12), (-0.7, -0.08), (-0.5, -0.1), (-0.3, -0.12), (-0.1, -0.08), (0.1, -0.1),
    (0.3, -0.12), (0.5, -0.08), (0.7, -0.1), (0.9, -0.12),
    (-1.25, -0.3), (-1.0, -0.32), (-0.8, -0.28), (-0.6, -0.3), (-0.4, -0.32), (-0.2, -0.28), (0.0, -0.3),
    (0.2, -0.32), (0.4, -0.28), (0.6, -0.3),
    (-1.25, -0.5), (-1.05, -0.52), (-0.85, -0.48), (-0.65, -0.5), (-0.45, -0.52), (-0.25, -0.48),
    (-0.05, -0.5), (0.15, -0.52), (0.35, -0.48),
    (-1.5, -0.7), (-1.3, -0.72), (-1.1, -0.68), (-0.9, -0.7), (-0.7, -0.72), (-0.5, -0.68), (-0.3, -0.7),
    (-0.1, -0.72), (0.1, -0.68), (0.3, -0.7),
    (-1.55, -0.9), (-1.35, -0.92), (-1.15, -0.88), (-0.95, -0.9), (-0.75, -0.92), (-0.5, -0.88),
    (-0.25, -0.9), (0.0, -0.92),
    (-1.6, -1.1), (-1.4, -1.12), (-1.2, -1.08), (-1.0, -1.1), (-0.7, -1.12), (-0.45, -1.08), (-0.2, -1.1),
    (-1.75, -1.3), (-1.55, -1.32), (-1.35, -1.28), (-1.15, -1.3), (-0.65, -1.32),
    (-1.75, -1.5), (-1.55, -1.52), (-1.3, -1.48),
]

frank_pts = [
    (-0.44, 2.77), (1.35, 2.59), (0.53, 2.30), (1.76, 2.27), (1.75, 1.95), (1.92, 1.75), (2.64, 2.09),
    (2.71, 1.80), (2.89, 0.88), (2.60, 1.20), (2.60, 1.10), (2.55, 0.95), (2.50, 0.90), (2.45, 0.85),
    (2.60, 0.54), (2.48, 0.05), (2.20, 0.20), (2.35, 0.75), (2.30, 0.75), (2.25, 1.15), (2.15, 1.35),
    (2.15, 1.20), (1.90, 1.05), (1.80, 0.90), (1.75, 0.80), (1.76, -0.12), (1.83, -0.79), (1.70, 0.45),
    (1.80, 0.45), (1.75, 0.45), (1.35, -0.28), (1.43, 0.45), (1.20, 0.45), (-0.62, 1.72), (0.00, 2.10),
    (0.05, 2.05), (0.15, 2.05), (0.00, 1.80), (0.25, 1.60), (0.30, 1.55), (0.45, 1.85), (0.50, 1.85),
    (-0.87, 1.12), (-0.35, 1.15), (-0.20, 1.00), (-0.15, 0.95), (-1.68, 0.85), (-1.17, 0.63),
    (-1.25, 0.40), (-1.76, -0.02), (-1.60, -0.15), (-1.00, 0.10), (-2.63, -0.57), (-2.58, -0.66),
    (-2.21, -0.58), (-1.95, -0.70), (-1.95, -0.85), (-1.85, -0.95), (-2.05, -1.25), (-2.10, -1.30),
    (-2.20, -1.35), (-1.65, -0.65), (-1.70, -0.80), (-2.73, -1.55), (-2.31, -1.64), (-1.90, -1.75),
    (-1.85, -1.80), (-1.91, -2.39), (-1.80, -1.50), (-1.45, -2.05), (-1.30, -1.80), (-1.25, -1.65),
    (-1.28, -2.39), (-1.05, -1.95), (-0.95, -2.05), (-0.90, -2.10), (-1.03, -2.60), (-0.34, -2.76),
    (-0.46, -1.97), (-0.10, -1.75), (-0.12, -1.55), (-0.05, -1.30), (0.10, -1.05), (-0.50, -1.50),
    (-0.65, -1.70), (-0.75, -1.50),
    (0.7, 1.6), (1.1, 1.62), (1.3, 1.58), (1.5, 1.6),
    (0.15, 1.4), (0.4, 1.42), (0.65, 1.38), (0.85, 1.4), (1.05, 1.43), (1.25, 1.37), (1.45, 1.4), (1.7, 1.42),
    (0.05, 1.2), (0.3, 1.22), (0.5, 1.18), (0.7, 1.2), (0.9, 1.23), (1.1, 1.17), (1.3, 1.2), (1.6, 1.22),
    (-0.05, 1.0), (0.2, 1.02), (0.4, 0.98), (0.6, 1.0), (0.8, 1.03), (1.0, 0.97), (1.2, 1.0), (1.4, 1.02), (1.7, 0.98),
    (-0.3, 0.8), (-0.1, 0.82), (0.1, 0.78), (0.3, 0.8), (0.5, 0.83), (0.7, 0.77), (0.9, 0.8), (1.1, 0.82),
    (1.3, 0.78), (1.5, 0.8), (1.65, 0.83),
    (-0.35, 0.6), (-0.15, 0.62), (0.05, 0.58), (0.25, 0.6), (0.45, 0.63), (0.65, 0.57), (0.85, 0.6),
    (1.05, 0.62), (1.25, 0.58),
    (-0.5, 0.4), (-0.3, 0.42), (-0.1, 0.38), (0.1, 0.4), (0.3, 0.43), (0.5, 0.37), (0.7, 0.4), (0.9, 0.42), (1.1, 0.38),
    (-0.8, 0.2), (-0.5, 0.22), (-0.3, 0.18), (-0.1, 0.2), (0.1, 0.17), (0.3, 0.22), (0.5, 0.2), (0.7, 0.18), (0.95, 0.22),
    (-1.0, 0.0), (-0.8, 0.02), (-0.6, -0.03), (-0.4, 0.0), (-0.2, 0.03), (0.0, -0.02), (0.2, 0.0), (0.4, 0.02),
    (0.6, -0.03), (0.85, 0.0), (1.05, 0.03),
    (-1.15, -0.2), (-0.95, -0.22), (-0.75, -0.18), (-0.55, -0.2), (-0.35, -0.23), (-0.15, -0.17),
    (0.05, -0.2), (0.25, -0.22), (0.45, -0.18), (0.75, -0.2), (1.05, -0.22),
    (-1.45, -0.4), (-1.25, -0.42), (-1.05, -0.38), (-0.85, -0.4), (-0.65, -0.43), (-0.45, -0.37),
    (-0.25, -0.4), (-0.05, -0.42), (0.15, -0.38), (0.35, -0.4), (0.55, -0.43),
    (-1.6, -0.6), (-1.4, -0.62), (-1.2, -0.58), (-1.0, -0.6), (-0.8, -0.63), (-0.6, -0.57), (-0.4, -0.6),
    (-0.2, -0.62), (0.0, -0.58), (0.2, -0.6), (0.4, -0.63),
    (-1.75, -0.8), (-1.5, -0.82), (-1.3, -0.78), (-1.1, -0.8), (-0.9, -0.83), (-0.7, -0.77), (-0.5, -0.8),
    (-0.3, -0.82), (-0.1, -0.78), (0.1, -0.8), (0.3, -0.83),
    (-1.6, -1.0), (-1.4, -1.02), (-1.2, -0.98), (-1.0, -1.0), (-0.8, -1.03), (-0.6, -0.97), (-0.35, -1.0),
    (-0.15, -1.02), (0.05, -0.98),
    (-1.65, -1.2), (-1.45, -1.22), (-1.25, -1.18), (-1.05, -1.2), (-0.8, -1.23), (-0.55, -1.17), (-0.3, -1.2),
    (-1.55, -1.4), (-1.35, -1.42), (-1.1, -1.38), (-0.85, -1.4),
    (-1.4, -1.6), (-1.15, -1.62),
    (0.55, 1.5), (0.85, 1.52), (1.2, 1.48), (1.4, 1.5),
    (0.2, 1.3), (0.45, 1.32), (0.65, 1.28), (0.85, 1.3), (1.05, 1.32), (1.25, 1.28), (1.5, 1.3),
    (0.1, 1.1), (0.3, 1.12), (0.5, 1.08), (0.7, 1.1), (0.9, 1.12), (1.1, 1.08), (1.3, 1.1), (1.5, 1.12),
    (-0.15, 0.9), (0.05, 0.92), (0.25, 0.88), (0.45, 0.9), (0.65, 0.92), (0.85, 0.88), (1.05, 0.9),
    (1.25, 0.92), (1.45, 0.88),
    (-0.2, 0.7), (0.0, 0.72), (0.2, 0.68), (0.4, 0.7), (0.6, 0.72), (0.8, 0.68), (1.0, 0.7), (1.2, 0.72), (1.4, 0.68),
    (-0.4, 0.5), (-0.2, 0.52), (0.0, 0.48), (0.2, 0.5), (0.4, 0.52), (0.6, 0.48), (0.8, 0.5), (1.0, 0.52),
    (-0.6, 0.3), (-0.4, 0.32), (-0.2, 0.28), (0.0, 0.3), (0.2, 0.32), (0.4, 0.28), (0.6, 0.3), (0.8, 0.32), (1.0, 0.28),
    (-0.9, 0.1), (-0.65, 0.12), (-0.45, 0.08), (-0.25, 0.1), (-0.05, 0.12), (0.15, 0.08), (0.35, 0.1),
    (0.55, 0.12), (0.75, 0.08),
    (-1.1, -0.1), (-0.9, -0.12), (-0.7, -0.08), (-0.5, -0.1), (-0.3, -0.12), (-0.1, -0.08), (0.1, -0.1),
    (0.3, -0.12), (0.5, -0.08), (0.9, -0.1),
    (-1.3, -0.3), (-1.1, -0.32), (-0.9, -0.28), (-0.7, -0.3), (-0.5, -0.32), (-0.3, -0.28), (-0.1, -0.3),
    (0.1, -0.32), (0.3, -0.28), (0.5, -0.3),
    (-1.5, -0.5), (-1.3, -0.52), (-1.1, -0.48), (-0.9, -0.5), (-0.7, -0.52), (-0.5, -0.48), (-0.3, -0.5),
    (-0.1, -0.52), (0.1, -0.48), (0.3, -0.5),
    (-1.5, -0.7), (-1.3, -0.72), (-1.1, -0.68), (-0.9, -0.7), (-0.7, -0.72), (-0.5, -0.68), (-0.3, -0.7),
    (-0.1, -0.72), (0.1, -0.68),
    (-1.65, -0.9), (-1.4, -0.92), (-1.2, -0.88), (-1.0, -0.9), (-0.8, -0.92), (-0.6, -0.88), (-0.4, -0.9),
    (-0.2, -0.92), (0.0, -0.88),
    (-1.55, -1.1), (-1.35, -1.12), (-1.15, -1.08), (-0.95, -1.1), (-0.7, -1.12), (-0.45, -1.08),
    (-1.5, -1.3), (-1.3, -1.32), (-1.0, -1.28), (-0.7, -1.3),
]

titles = ['Normal copula (ρ = 0.7)',
          'Student-t copula ( ρ = 0.7, ν= 3.5)',
          'Gumbel copula (a = 1.8)',
          'Cook-Johnson copula (α= 2.1)',
          r'SJC copula (τ$_\mathregular{L}$= 0.6, τ$_\mathregular{U}$= 0.3)',
          'Frank copula ( θ = 6.5)']
all_pts = [normal_pts, student_pts, gumbel_pts, clayton_pts, sjc_pts, frank_pts]

# layout in pixels (left, top, right, bottom), axis limits, title centre/baseline
W, H = 1133, 592
boxes = [(40, 42, 358, 257), (420, 47, 739, 259), (810, 43, 1140, 263),
         (37, 349, 360, 567), (428, 349, 743, 563), (811, 347, 1129, 562)]
xlims = [(-3.48, 3.245), (-3.46, 4.12), (-3.51, 3.70), (-3.10, 3.10), (-3.11, 3.62), (-3.11, 3.16)]
ylims = [(-3.29, 3.44), (-3.47, 3.30), (-3.40, 3.18), (-3.32, 3.17), (-3.15, 3.29), (-3.12, 3.11)]
xticks = [range(-3, 4), range(-3, 5), range(-3, 4), range(-3, 4), range(-3, 4), range(-3, 4)]
title_pos = [(196, 29), (575, 29), (970, 30), (203, 336), (572, 336), (975, 335)]

plt.rcParams['font.family'] = ['Liberation Sans', 'DejaVu Sans']
plt.rcParams['axes.unicode_minus'] = False
fig = plt.figure(figsize=(W / 100, H / 100), dpi=100)
fig.patch.set_facecolor('white')

for i in range(6):
    l, t, r, b = boxes[i]
    ax = fig.add_axes([l / W, 1 - b / H, (r - l) / W, (b - t) / H])
    x, y = np.array(all_pts[i]).T
    ax.plot(x, y, 'o', color='black', markersize=6.3, markeredgewidth=0)
    ax.set_xlim(*xlims[i])
    ax.set_ylim(*ylims[i])
    ax.set_xticks(list(xticks[i]))
    ax.set_yticks(range(-3, 4))
    for s in ax.spines.values():
        s.set_linewidth(1.2)
        s.set_color('#333333')
    ax.tick_params(axis='x', direction='out', length=4.5, width=1, color='#333333',
                   labelsize=8, labelcolor='#333333', pad=1.5)
    ax.tick_params(axis='y', direction='out', length=5, width=1, color='#333333',
                   labelsize=8, labelcolor='#333333', pad=9)
    tx, ty = title_pos[i]
    fig.text(tx / W, 1 - ty / H, titles[i], ha='center', va='baseline',
             fontsize=13.7, fontweight='bold', color='#222222')

fig.savefig('out.png', dpi=100)
